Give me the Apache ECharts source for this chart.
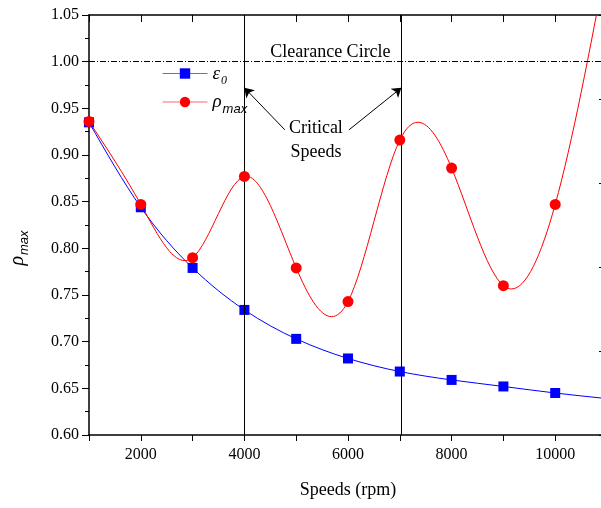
<!DOCTYPE html>
<html>
<head>
<meta charset="utf-8">
<title>rho max vs speed</title>
<script src="https://cdn.jsdelivr.net/npm/echarts@6/dist/echarts.min.js"></script>
<style>
  html, body { margin: 0; padding: 0; background: #fff; }
  #chart { width: 601px; height: 508px; }
</style>
</head>
<body>
<div id="chart"></div>
<script>
// values
const speeds = [1000, 2000, 3000, 4000, 5000, 6000, 7000, 8000, 9000, 10000, 11000];
const eps0   = [0.935, 0.844, 0.779, 0.734, 0.703, 0.682, 0.668, 0.659, 0.652, 0.645, 0.639];
const rhoMax = [0.936, 0.847, 0.790, 0.877, 0.779, 0.743, 0.916, 0.886, 0.760, 0.847, 1.11];
const criticalSpeeds = [4000, 7030];
const clearance = 1.00;
// annotations (data units)
const arrowFrom = [[4780, 0.927], [6020, 0.927]];
const arrowTo   = [[4000, 0.972], [7030, 0.972]];
const noteText  = ['Clearance Circle', 'Critical\nSpeeds'];
const notePos   = [[5660, 1.010], [5380, 0.916]];

const FONT = 'Liberation Serif';
const SANS = 'Liberation Sans';
const BLUE = '#0000ff', RED = '#ff0000';

// natural cubic spline -> end slopes of each segment
function splineSlopes(xs, ys) {
    const n = xs.length, h = [], M = new Array(n).fill(0);
    for (let i = 0; i < n - 1; i++) h.push(xs[i + 1] - xs[i]);
    const a = [], b = [], c = [], r = [];
    for (let i = 1; i < n - 1; i++) {
        a.push(h[i - 1]); b.push(2 * (h[i - 1] + h[i])); c.push(h[i]);
        r.push(6 * ((ys[i + 1] - ys[i]) / h[i] - (ys[i] - ys[i - 1]) / h[i - 1]));
    }
    const m = b.length;
    for (let i = 1; i < m; i++) {
        const w = a[i] / b[i - 1];
        b[i] -= w * c[i - 1];
        r[i] -= w * r[i - 1];
    }
    const sol = new Array(m);
    sol[m - 1] = r[m - 1] / b[m - 1];
    for (let i = m - 2; i >= 0; i--) sol[i] = (r[i] - c[i] * sol[i + 1]) / b[i];
    for (let i = 0; i < m; i++) M[i + 1] = sol[i];
    const segs = [];
    for (let i = 0; i < n - 1; i++) {
        const s = (ys[i + 1] - ys[i]) / h[i];
        segs.push([s - h[i] * (2 * M[i] + M[i + 1]) / 6, s + h[i] * (M[i] + 2 * M[i + 1]) / 6]);
    }
    return segs;
}

function curveSeries(ys, color) {
    const segs = splineSlopes(speeds, ys);
    return {
        type: 'custom', z: 3, clip: true, silent: true,
        data: speeds.map((x, i) => [x, ys[i]]),
        renderItem: function (params, api) {
            const i = params.dataIndex;
            if (i >= speeds.length - 1) return null;
            const x0 = speeds[i], x1 = speeds[i + 1], h = x1 - x0;
            const p0 = api.coord([x0, ys[i]]);
            const p1 = api.coord([x0 + h / 3, ys[i] + segs[i][0] * h / 3]);
            const p2 = api.coord([x1 - h / 3, ys[i + 1] - segs[i][1] * h / 3]);
            const p3 = api.coord([x1, ys[i + 1]]);
            return {
                type: 'bezierCurve',
                shape: { x1: p0[0], y1: p0[1], cpx1: p1[0], cpy1: p1[1], cpx2: p2[0], cpy2: p2[1], x2: p3[0], y2: p3[1] },
                style: { stroke: color, fill: null, lineWidth: 1 }
            };
        }
    };
}

const tickRich = { t: { color: '#000', fontFamily: FONT, fontSize: 16 } };
const black = { color: '#000', width: 1.5 };

let chart = echarts.init(document.getElementById('chart'));
chart.setOption({
    animation: false,
    backgroundColor: '#fff',
    textStyle: { fontFamily: FONT },
    // the right edge of the original plot is cut off by the picture edge
    grid: { left: 89, top: 15, width: 518, height: 420, outerBoundsMode: 'none', containLabel: false },
    legend: {
        orient: 'vertical', left: 157, top: 59,
        itemWidth: 45, itemHeight: 13, itemGap: 6,
        data: ['eps0', 'rhoMax'],
        lineStyle: { opacity: 0.6, width: 1 },
        formatter: name => name === 'eps0' ? '{i|ε}{z|0}' : '{i|ρ}{s|max}',
        textStyle: {
            rich: {
                i: { fontFamily: FONT, fontStyle: 'italic', fontSize: 19, color: '#000' },
                z: { fontFamily: FONT, fontStyle: 'italic', fontSize: 12, color: '#000', padding: [14, 0, 0, 1] },
                s: { fontFamily: SANS, fontStyle: 'italic', fontSize: 13, color: '#000', padding: [14, 0, 0, 1] }
            }
        }
    },
    xAxis: [{
        type: 'value', position: 'bottom', min: 1000, max: 11000, interval: 1000,
        name: 'Speeds (rpm)', nameLocation: 'middle', nameGap: 46,
        nameTextStyle: { color: '#000', fontFamily: FONT, fontSize: 18 },
        axisLine: { show: true, lineStyle: black },
        axisTick: { show: true, inside: false, length: 6, lineStyle: { color: '#000', width: 1 } },
        axisLabel: {
            color: '#000', fontFamily: FONT, fontSize: 16, margin: 12, rich: tickRich,
            formatter: v => v % 2000 === 0 ? '{t|' + v + '}' : ''
        },
        splitLine: { show: false }
    }, {
        type: 'value', position: 'top', min: 1000, max: 11000, interval: 1000,
        axisLine: { show: true, lineStyle: black },
        axisTick: { show: true, inside: true, length: 7, lineStyle: { color: '#000', width: 1 } },
        axisLabel: { show: false },
        splitLine: { show: false }
    }],
    yAxis: [{
        type: 'value', position: 'left', min: 0.6, max: 1.05, interval: 0.05,
        name: '{r|ρ}{s|max}', nameLocation: 'middle', nameGap: 58, nameRotate: 90,
        nameTextStyle: {
            padding: [0, 46, 0, 0],
            rich: {
                r: { fontFamily: FONT, fontStyle: 'italic', fontSize: 20, color: '#000' },
                s: { fontFamily: SANS, fontStyle: 'italic', fontSize: 13, color: '#000', padding: [14, 0, 0, 1] }
            }
        },
        axisLine: { show: true, lineStyle: black },
        axisTick: { show: true, inside: false, length: 7, lineStyle: { color: '#000', width: 1 } },
        minorTick: { show: true, splitNumber: 2, length: 4, lineStyle: { color: '#000', width: 1 } },
        axisLabel: {
            color: '#000', fontFamily: FONT, fontSize: 16, margin: 10, rich: tickRich,
            formatter: v => '{t|' + v.toFixed(2) + '}'
        },
        splitLine: { show: false }
    }, {
        type: 'value', position: 'right', min: 0, max: 5, interval: 1,
        axisLine: { show: true, lineStyle: black },
        axisTick: { show: true, inside: true, length: 8, lineStyle: { color: '#000', width: 1 } },
        axisLabel: { show: false },
        splitLine: { show: false }
    }],
    series: [
        {
            type: 'line', name: 'refs', data: [], z: 1, silent: true,
            markLine: {
                silent: true, animation: false, symbol: 'none', label: { show: false },
                data: [
                    ...criticalSpeeds.map(v => ({ xAxis: v, lineStyle: { color: '#000', width: 1, type: 'solid' } })),
                    { yAxis: clearance, lineStyle: { color: '#000', width: 1, type: [6, 2, 1, 2] } },
                    ...arrowFrom.map((f, k) => [
                        { coord: f, symbol: 'none', lineStyle: { color: '#000', width: 1, type: 'solid' } },
                        { coord: arrowTo[k], symbol: 'arrow', symbolSize: 9 }
                    ])
                ]
            }
        },
        curveSeries(eps0, BLUE),
        {
            type: 'line', name: 'eps0', z: 4,
            data: speeds.map((x, i) => [x, eps0[i]]),
            symbol: 'rect', symbolSize: 10,
            itemStyle: { color: BLUE },
            lineStyle: { color: BLUE, width: 1, opacity: 0 }
        },
        curveSeries(rhoMax, RED),
        {
            type: 'line', name: 'rhoMax', z: 5,
            data: speeds.map((x, i) => [x, rhoMax[i]]),
            symbol: 'circle', symbolSize: 11,
            itemStyle: { color: RED },
            lineStyle: { color: RED, width: 1, opacity: 0 }
        }
    ]
});

// text notes placed through the axes
chart.setOption({
    graphic: noteText.map((t, k) => {
        const p = chart.convertToPixel({ xAxisIndex: 0, yAxisIndex: 0 }, notePos[k]);
        return {
            type: 'text', x: p[0], y: p[1], silent: true,
            style: { text: t, fontFamily: FONT, fontSize: 18, fill: '#000', align: 'center', verticalAlign: 'middle', lineHeight: 24 }
        };
    })
});
</script>
</body>
</html>
